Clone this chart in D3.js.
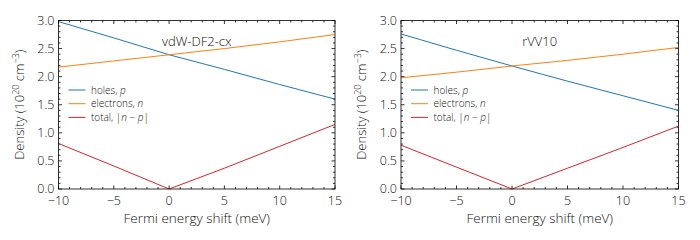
<html>
<head>
  <meta charset="utf-8">
  <style>
    body { margin: 0; background: #fff; }
    svg { font-family: "Open Sans", "DejaVu Sans", sans-serif; font-weight: 300; }
  </style>
</head>
<body>
  <svg></svg>
  <script src="https://d3js.org/d3.v7.min.js"></script>
  <script>
    let width = 700, height = 240;

    // Fermi energy shift (meV)
    let shift = [-10, -5, 0, 5, 10, 15];

    // vdW-DF2-cx, density in 1e20 cm^-3
    let holesCx = [2.98, 2.69, 2.39, 2.13, 1.86, 1.60];
    let electronsCx = [2.17, 2.28, 2.39, 2.50, 2.62, 2.75];
    let totalCx = [0.81, 0.41, 0.00, 0.37, 0.76, 1.15];

    // rVV10
    let holesVV = [2.76, 2.47, 2.19, 1.92, 1.66, 1.40];
    let electronsVV = [1.98, 2.08, 2.19, 2.29, 2.40, 2.52];
    let totalVV = [0.78, 0.39, 0.00, 0.37, 0.74, 1.12];

    let xTicks = [-10, -5, 0, 5, 10, 15];
    let yTicks = [0, 0.5, 1.0, 1.5, 2.0, 2.5, 3.0];

    let colors = { holes: "#1f77b4", electrons: "#ff7f0e", total: "#d62728" };

    let svg = d3.select("svg")
        .attr("width", width)
        .attr("height", height)
        .attr("viewBox", "0 0 " + width + " " + height);

    let panels = [
      { title: "vdW-DF2-cx", x0: 58.5, x1: 335, holes: holesCx, electrons: electronsCx, total: totalCx },
      { title: "rVV10", x0: 401, x1: 678.5, holes: holesVV, electrons: electronsVV, total: totalVV }
    ];

    let plotTop = 20.5, plotBottom = 189;

    panels.forEach(p => {
      let x = d3.scaleLinear().domain([-10, 15]).range([p.x0, p.x1]);
      let y = d3.scaleLinear().domain([0, 3]).range([plotBottom, plotTop]);
      let g = svg.append("g");

      // minor + major ticks, inward on all sides
      let xMinor = d3.range(-10, 15.01, 1);
      let yMinor = d3.range(0, 3.001, 0.1);
      let tk = g.append("g").attr("stroke", "#000").attr("stroke-width", 0.8);
      xMinor.forEach(v => {
        let len = (v % 5 === 0) ? 3.5 : 2;
        tk.append("line").attr("x1", x(v)).attr("x2", x(v)).attr("y1", plotBottom).attr("y2", plotBottom - len);
        tk.append("line").attr("x1", x(v)).attr("x2", x(v)).attr("y1", plotTop).attr("y2", plotTop + len);
      });
      yMinor.forEach(v => {
        let major = Math.abs(v * 2 - Math.round(v * 2)) < 1e-6;
        let len = major ? 3.5 : 2;
        tk.append("line").attr("x1", p.x0).attr("x2", p.x0 + len).attr("y1", y(v)).attr("y2", y(v));
        tk.append("line").attr("x1", p.x1).attr("x2", p.x1 - len).attr("y1", y(v)).attr("y2", y(v));
      });

      // tick labels
      g.selectAll(".xl").data(xTicks).enter().append("text")
          .attr("x", d => x(d)).attr("y", 205)
          .attr("text-anchor", "middle")
          .style("font-size", "12.5px").attr("fill", "#111")
          .text(d => d < 0 ? "\u2212" + Math.abs(d) : d);
      g.selectAll(".yl").data(yTicks).enter().append("text")
          .attr("x", p.x0 - 4).attr("y", d => y(d) + 4)
          .attr("text-anchor", "end")
          .style("font-size", "12.5px").attr("fill", "#111")
          .text(d => d.toFixed(1));

      // lines
      let line = vals => d3.line().x((d, i) => x(shift[i])).y(d => y(d))(vals);
      ["holes", "electrons", "total"].forEach(k => {
        g.append("path").attr("d", line(p[k]))
            .attr("fill", "none").attr("stroke", colors[k]).attr("stroke-width", 1);
      });

      // frame
      g.append("rect").attr("x", p.x0).attr("y", plotTop)
          .attr("width", p.x1 - p.x0).attr("height", plotBottom - plotTop)
          .attr("fill", "none").attr("stroke", "#000").attr("stroke-width", 0.8);

      // title
      g.append("text").attr("x", (p.x0 + p.x1) / 2).attr("y", 46)
          .attr("text-anchor", "middle").style("font-size", "13px").attr("fill", "#111")
          .text(p.title);

      // axis labels
      g.append("text").attr("x", (p.x0 + p.x1) / 2).attr("y", 222.5)
          .attr("text-anchor", "middle").style("font-size", "13.5px").attr("fill", "#111")
          .text("Fermi energy shift (meV)");
      let yl = g.append("text")
          .attr("transform", "translate(" + (p.x0 - 35) + "," + ((plotTop + plotBottom) / 2) + ") rotate(-90)")
          .attr("text-anchor", "middle").style("font-size", "13px").attr("fill", "#111");
      yl.append("tspan").text("Density (10");
      yl.append("tspan").attr("dy", -5).style("font-size", "9px").text("20");
      yl.append("tspan").attr("dy", 5).text(" cm");
      yl.append("tspan").attr("dy", -5).style("font-size", "9px").text("\u22123");
      yl.append("tspan").attr("dy", 5).text(")");

      // legend
      let lg = g.append("g").attr("transform", "translate(" + (p.x0 + 10) + ",90)");
      let entries = [
        { k: "holes", parts: [["holes, ", false], ["p", true]] },
        { k: "electrons", parts: [["electrons, ", false], ["n", true]] },
        { k: "total", parts: [["total, |", false], ["n", true], [" \u2212 ", false], ["p", true], ["|", false]] }
      ];
      entries.forEach((e, i) => {
        let yy = i * 13.7;
        lg.append("line").attr("x1", 0).attr("x2", 17).attr("y1", yy).attr("y2", yy)
            .attr("stroke", colors[e.k]).attr("stroke-width", 1);
        let t = lg.append("text").attr("x", 22.5).attr("y", yy + 3.5)
            .style("font-size", "10px").attr("fill", "#111");
        e.parts.forEach(pt => {
          t.append("tspan").style("font-style", pt[1] ? "italic" : "normal").text(pt[0]);
        });
      });
    });
  </script>
</body>
</html>
